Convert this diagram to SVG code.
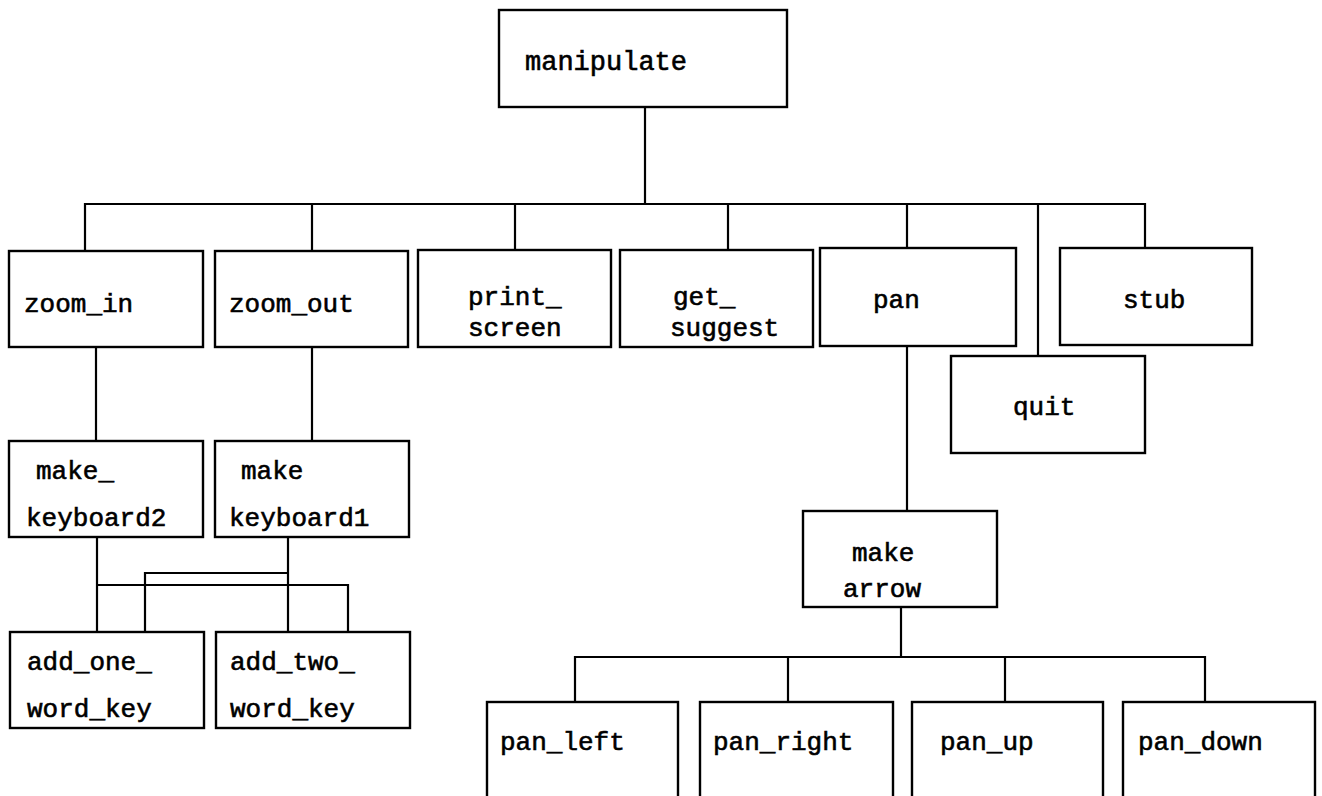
<svg xmlns="http://www.w3.org/2000/svg" width="1322" height="796" viewBox="0 0 1322 796">
<style>
.box{fill:#fff;stroke:#000;stroke-width:2.4}
.t{font-family:"Liberation Mono","DejaVu Sans Mono",monospace;font-size:26px;fill:#000;stroke:#000;stroke-width:0.6}
.c{fill:none;stroke:#000;stroke-width:2.2}
</style>
<rect width="1322" height="796" fill="#fff"/>
<g id="connectors">
<path class="c" d="M645,107 V204"/>
<path class="c" d="M85,251 V204 H1145 V248"/>
<path class="c" d="M312,204 V250"/>
<path class="c" d="M515,204 V250"/>
<path class="c" d="M728,204 V250"/>
<path class="c" d="M907,204 V248"/>
<path class="c" d="M1038,204 V356"/>
<path class="c" d="M96,347 V441"/>
<path class="c" d="M312,347 V441"/>
<path class="c" d="M97,537 V632"/>
<path class="c" d="M97,585 H348 V632"/>
<path class="c" d="M288,537 V632"/>
<path class="c" d="M288,573 H145 V632"/>
<path class="c" d="M907,346 V511"/>
<path class="c" d="M901,607 V657"/>
<path class="c" d="M575,702 V657 H1205 V702"/>
<path class="c" d="M788,657 V702"/>
<path class="c" d="M1005,657 V702"/>
</g>
<g id="manipulate"><rect class="box" x="499" y="10" width="288" height="97"/><text class="t" x="525" y="70" style="font-size:27px">manipulate</text></g>
<g id="zoom_in"><rect class="box" x="9" y="251" width="194" height="96"/><text class="t" x="24" y="312">zoom_in</text></g>
<g id="zoom_out"><rect class="box" x="215" y="251" width="193" height="96"/><text class="t" x="229" y="312">zoom_out</text></g>
<g id="print_screen"><rect class="box" x="418" y="250" width="193" height="97"/><text class="t" x="468" y="305">print_</text><text class="t" x="468" y="336">screen</text></g>
<g id="get_suggest"><rect class="box" x="620" y="250" width="193" height="97"/><text class="t" x="673" y="305">get_</text><text class="t" x="670" y="336">suggest</text></g>
<g id="pan"><rect class="box" x="820" y="248" width="196" height="98"/><text class="t" x="873" y="308">pan</text></g>
<g id="stub"><rect class="box" x="1060" y="248" width="192" height="97"/><text class="t" x="1123" y="308">stub</text></g>
<g id="quit"><rect class="box" x="951" y="356" width="194" height="97"/><text class="t" x="1013" y="415">quit</text></g>
<g id="make_keyboard2"><rect class="box" x="9" y="441" width="194" height="96"/><text class="t" x="36" y="479">make_</text><text class="t" x="26" y="526">keyboard2</text></g>
<g id="make_keyboard1"><rect class="box" x="215" y="441" width="194" height="96"/><text class="t" x="241" y="479">make</text><text class="t" x="229" y="526">keyboard1</text></g>
<g id="add_one_word_key"><rect class="box" x="10" y="632" width="194" height="96"/><text class="t" x="27" y="670">add_one_</text><text class="t" x="27" y="717">word_key</text></g>
<g id="add_two_word_key"><rect class="box" x="216" y="632" width="194" height="96"/><text class="t" x="230" y="670">add_two_</text><text class="t" x="230" y="717">word_key</text></g>
<g id="make_arrow"><rect class="box" x="803" y="511" width="194" height="96"/><text class="t" x="852" y="561">make</text><text class="t" x="843" y="597">arrow</text></g>
<g id="pan_left"><rect class="box" x="487" y="702" width="191" height="110"/><text class="t" x="500" y="750">pan_left</text></g>
<g id="pan_right"><rect class="box" x="700" y="702" width="193" height="110"/><text class="t" x="713" y="750">pan_right</text></g>
<g id="pan_up"><rect class="box" x="912" y="702" width="191" height="110"/><text class="t" x="940" y="750">pan_up</text></g>
<g id="pan_down"><rect class="box" x="1123" y="702" width="192" height="110"/><text class="t" x="1138" y="750">pan_down</text></g>
</svg>
